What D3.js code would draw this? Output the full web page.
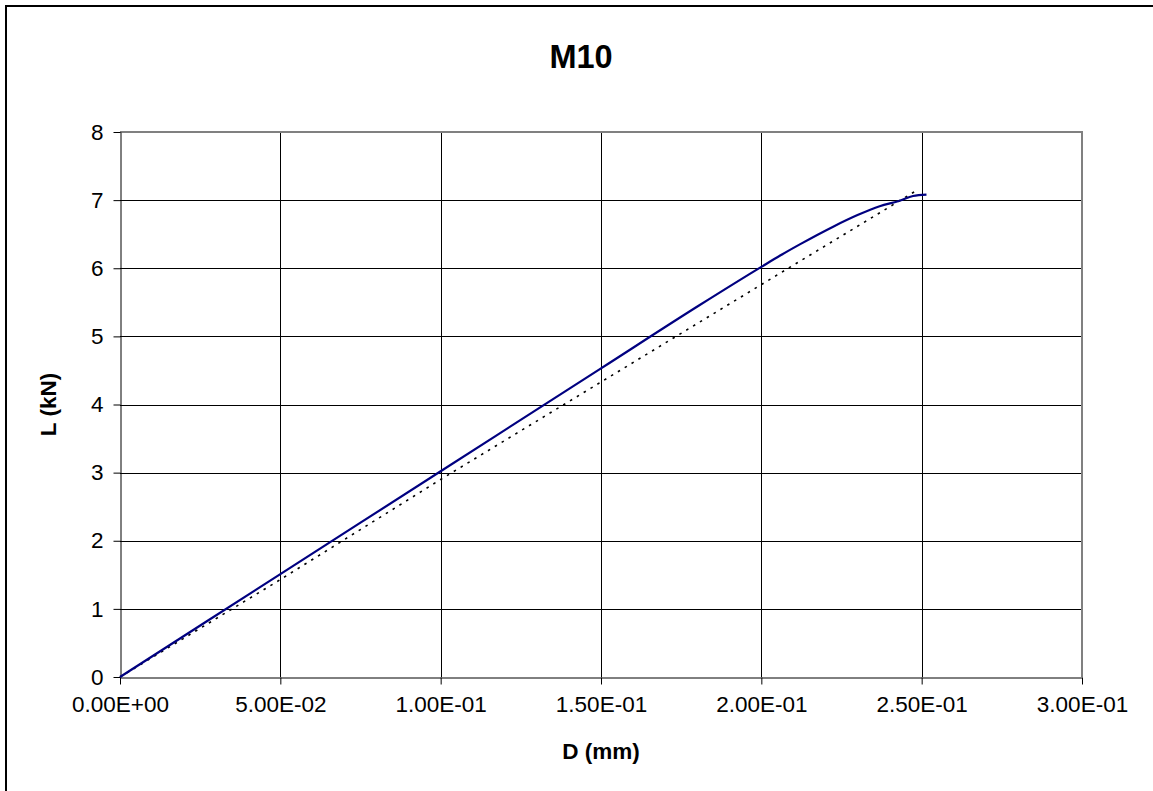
<!DOCTYPE html>
<html>
<head>
<meta charset="utf-8">
<script src="https://cdn.jsdelivr.net/npm/d3@7"></script>
<style>
  body { margin: 0; background: #fff; }
  svg { display: block; font-family: "Liberation Sans", Arial, sans-serif; }
</style>
</head>
<body>
<svg id="chart" width="1153" height="791"></svg>
<script>
// measured curve (D in mm, L in kN)
const measuredD = [0, 0.05, 0.1, 0.15, 0.1808, 0.2, 0.206, 0.212, 0.2224, 0.2300, 0.2369, 0.2431, 0.2473, 0.2515];
const measuredL = [0, 1.51, 3.02, 4.53, 5.46, 6.02, 6.19, 6.35, 6.61, 6.78, 6.91, 6.99, 7.06, 7.08];

// dotted reference line
const refD = [0, 0.05, 0.1, 0.15, 0.2, 0.2487];
const refL = [0, 1.43, 2.9, 4.33, 5.76, 7.15];

const xTicks = [0, 0.05, 0.1, 0.15, 0.2, 0.25, 0.3];
const xTickLabels = ["0.00E+00", "5.00E-02", "1.00E-01", "1.50E-01", "2.00E-01", "2.50E-01", "3.00E-01"];
const yTicks = [0, 1, 2, 3, 4, 5, 6, 7, 8];

const svg = d3.select("#chart");
const plotL = 120, plotR = 1082, plotT = 132, plotB = 677;

const x = d3.scaleLinear().domain([0, 0.3]).range([plotL, plotR]);
const y = d3.scaleLinear().domain([0, 8]).range([plotB, plotT]);

// outer chart frame
svg.append("rect")
  .attr("x", 6).attr("y", 6)
  .attr("width", 1160).attr("height", 800)
  .attr("fill", "none").attr("stroke", "#000").attr("stroke-width", 2);

// gridlines
svg.append("g").selectAll("line").data(yTicks.slice(1, -1)).enter().append("line")
  .attr("x1", plotL).attr("x2", plotR)
  .attr("y1", (d) => Math.round(y(d)) + 0.5).attr("y2", (d) => Math.round(y(d)) + 0.5)
  .attr("stroke", "#000").attr("stroke-width", 1);
svg.append("g").selectAll("line").data(xTicks.slice(1, -1)).enter().append("line")
  .attr("y1", plotT).attr("y2", plotB)
  .attr("x1", (d) => Math.round(x(d)) + 0.5).attr("x2", (d) => Math.round(x(d)) + 0.5)
  .attr("stroke", "#000").attr("stroke-width", 1);

// plot border (top/right gray)
svg.append("path")
  .attr("d", `M${plotL},${plotT}H${plotR}V${plotB}`)
  .attr("fill", "none").attr("stroke", "#808080").attr("stroke-width", 2);

// axes
const xAxis = d3.axisBottom(x).tickValues(xTicks)
  .tickFormat((d, i) => xTickLabels[i]).tickSize(7).tickPadding(12).tickSizeOuter(0);
const yAxis = d3.axisLeft(y).tickValues(yTicks).tickSize(7).tickPadding(10).tickSizeOuter(0);

const gx = svg.append("g").attr("transform", `translate(0,${plotB + 0.5})`).call(xAxis);
const gy = svg.append("g").attr("transform", `translate(${plotL + 0.5},0)`).call(yAxis);
[gx, gy].forEach((g) => {
  g.select(".domain").attr("stroke", "#000").attr("stroke-width", 1);
  g.selectAll(".tick line").attr("stroke", "#000");
  g.selectAll("text").attr("fill", "#000")
    .style("font-family", '"Liberation Sans", Arial, sans-serif')
    .style("font-size", "22.5px");
});

// series
const line = d3.line().x((d) => x(d[0])).y((d) => y(d[1]));
const refPts = refD.map((d, i) => [d, refL[i]]);
const measPts = measuredD.map((d, i) => [d, measuredL[i]]);

svg.append("path").datum(refPts)
  .attr("d", line).attr("fill", "none")
  .attr("stroke", "#000").attr("stroke-width", 1.6)
  .attr("stroke-dasharray", "2.5,5.5");

svg.append("path").datum(measPts)
  .attr("d", line.curve(d3.curveMonotoneX)).attr("fill", "none")
  .attr("stroke", "#000080").attr("stroke-width", 2.2);

// titles
svg.append("text").attr("x", 581).attr("y", 68)
  .attr("text-anchor", "middle").attr("font-size", 32.5).attr("font-weight", "bold")
  .text("M10");
svg.append("text").attr("x", (plotL + plotR) / 2).attr("y", 759)
  .attr("text-anchor", "middle").attr("font-size", 22.5).attr("font-weight", "bold")
  .text("D (mm)");
svg.append("text")
  .attr("transform", `translate(56,${(plotT + plotB) / 2}) rotate(-90)`)
  .attr("text-anchor", "middle").attr("font-size", 22.5).attr("font-weight", "bold")
  .text("L (kN)");
</script>
</body>
</html>
